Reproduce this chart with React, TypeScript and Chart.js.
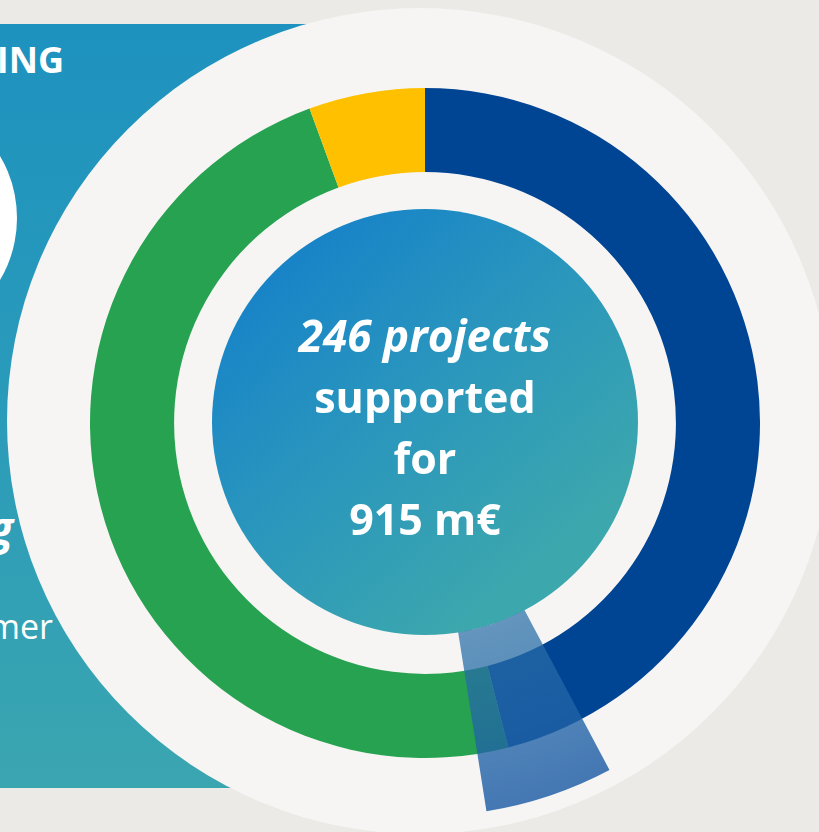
import React, { useEffect, useRef } from 'react';
import { Chart, registerables } from 'chart.js';

Chart.register(...registerables);

// Ring segments (share of total, %), clockwise from 12 o'clock
const categories = ['Blue', 'Green', 'Yellow'];
const shares = [46.0, 48.4, 5.6];
const ringColors = ['#004494', '#27a250', '#ffc000'];

// Highlight wedge (degrees, clockwise from 12 o'clock): gap, wedge, rest
const highlightLabels = ['before', 'highlight', 'after'];
const highlightDegrees = [152, 19, 189];

// Centre text
const centerTitle = '246 projects';
const centerLines = ['supported', 'for', '915 m€'];

// Partial side-panel text
const sideTitle = 'ING';
const sideItalic = 'g';
const sideText = 'mer';

const FONT = '"Open Sans", "DejaVu Sans", sans-serif';

function RingChart() {
  const ref = useRef<HTMLCanvasElement>(null);
  useEffect(() => {
    const chart = new Chart(ref.current!, {
      type: 'doughnut',
      data: {
        labels: categories,
        datasets: [
          {
            data: shares,
            backgroundColor: ringColors,
            borderWidth: 0,
            hoverOffset: 0,
          },
        ],
      },
      options: {
        responsive: false,
        maintainAspectRatio: false,
        devicePixelRatio: 1,
        animation: false,
        cutout: '74.9%',
        layout: { padding: 0 },
        plugins: { legend: { display: false }, tooltip: { enabled: false } },
        events: [],
      },
    });
    return () => chart.destroy();
  }, []);
  return (
    <canvas
      ref={ref}
      width={670}
      height={670}
      style={{ position: 'absolute', left: 90, top: 88, width: 670, height: 670 }}
    />
  );
}

function WedgeChart() {
  const ref = useRef<HTMLCanvasElement>(null);
  useEffect(() => {
    const chart = new Chart(ref.current!, {
      type: 'doughnut',
      data: {
        labels: highlightLabels,
        datasets: [
          {
            data: highlightDegrees,
            backgroundColor: (ctx: any) => {
              if (ctx.dataIndex !== 1) return 'rgba(0,0,0,0)';
              const c = ctx.chart.ctx as CanvasRenderingContext2D;
              const area = ctx.chart.chartArea;
              if (!area) return 'rgba(40,105,170,0.75)';
              const cx = (area.left + area.right) / 2;
              const cy = (area.top + area.bottom) / 2;
              const g = c.createRadialGradient(cx, cy, 212, cx, cy, 393);
              g.addColorStop(0, 'rgba(42,112,168,0.72)');
              g.addColorStop(1, 'rgba(28,92,165,0.82)');
              return g;
            },
            borderWidth: 0,
            hoverOffset: 0,
          },
        ],
      },
      options: {
        responsive: false,
        maintainAspectRatio: false,
        devicePixelRatio: 1,
        animation: false,
        cutout: '53.9%',
        layout: { padding: 0 },
        plugins: { legend: { display: false }, tooltip: { enabled: false } },
        events: [],
      },
    });
    return () => chart.destroy();
  }, []);
  return (
    <canvas
      ref={ref}
      width={786}
      height={786}
      style={{ position: 'absolute', left: 32, top: 30, width: 786, height: 786 }}
    />
  );
}

export default function App() {
  return (
    <div
      style={{
        position: 'absolute',
        left: 0,
        top: 0,
        width: 819,
        height: 832,
        overflow: 'hidden',
        background: '#ebeae6',
        fontFamily: FONT,
      }}
    >
      {/* left panel */}
      <div
        style={{
          position: 'absolute',
          left: 0,
          top: 24,
          width: 380,
          height: 764,
          background: 'linear-gradient(180deg, #1e92bf 0%, #2a9bba 50%, #3ba6b0 100%)',
        }}
      />
      <div
        style={{
          position: 'absolute',
          left: -227,
          top: 96,
          width: 244,
          height: 244,
          borderRadius: '50%',
          background: '#ffffff',
        }}
      />
      <div
        style={{
          position: 'absolute',
          left: -300,
          width: 364,
          top: 42,
          textAlign: 'right',
          color: '#fff',
          fontWeight: 700,
          fontSize: 36,
          lineHeight: '36px',
          whiteSpace: 'nowrap',
        }}
      >
        {sideTitle}
      </div>
      <div
        style={{
          position: 'absolute',
          left: -300,
          width: 313,
          top: 505,
          textAlign: 'right',
          color: '#fff',
          fontWeight: 700,
          fontStyle: 'italic',
          fontSize: 44,
          lineHeight: '44px',
          whiteSpace: 'nowrap',
        }}
      >
        {sideItalic}
      </div>
      <div
        style={{
          position: 'absolute',
          left: -300,
          width: 353,
          top: 609,
          textAlign: 'right',
          color: '#fff',
          fontWeight: 400,
          fontSize: 34,
          lineHeight: '34px',
          whiteSpace: 'nowrap',
        }}
      >
        {sideText}
      </div>

      {/* big off-white disc */}
      <div
        style={{
          position: 'absolute',
          left: 420 - 413,
          top: 421 - 413,
          width: 826,
          height: 826,
          borderRadius: '50%',
          background: '#f6f5f3',
        }}
      />

      <RingChart />

      {/* inner gradient disc */}
      <div
        style={{
          position: 'absolute',
          left: 425 - 213,
          top: 422 - 213,
          width: 426,
          height: 426,
          borderRadius: '50%',
          background: 'linear-gradient(140deg, #1581c9 10%, #2a96bd 45%, #3ca7ad 80%)',
        }}
      />

      <WedgeChart />

      {/* centre text */}
      <div
        style={{
          position: 'absolute',
          left: 225,
          width: 400,
          top: 305,
          textAlign: 'center',
          color: '#fff',
          fontWeight: 700,
          fontSize: 43,
          lineHeight: '61px',
        }}
      >
        <div style={{ fontStyle: 'italic', fontSize: 44 }}>{centerTitle}</div>
        {centerLines.map((l) => (
          <div key={l}>{l}</div>
        ))}
      </div>
    </div>
  );
}
